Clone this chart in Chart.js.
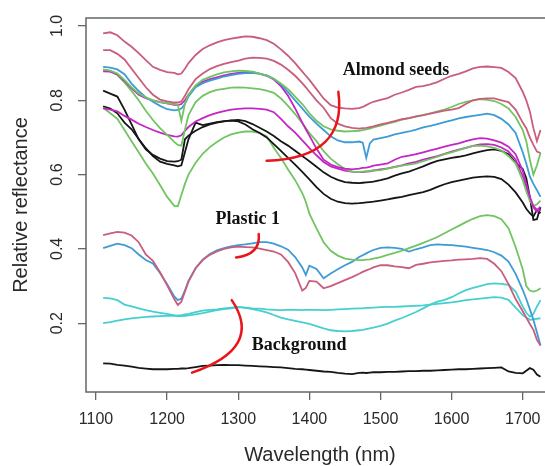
<!DOCTYPE html>
<html lang="en">
<head>
<meta charset="UTF-8">
<title>Relative reflectance spectra</title>
<script src="https://cdn.jsdelivr.net/npm/chart.js"></script>
<style>
    html, body { margin: 0; padding: 0; background: #fff; overflow: hidden; }
    #wrap { width: 575px; height: 466px; }
    canvas { display: block; }
</style>
</head>
<body>
<div id="wrap"><canvas id="spectra" width="575" height="466"></canvas></div>
<script>
// wavelength grid (nm) shared by every curve
const wavelength = [
    1110, 1120, 1130, 1140, 1150, 1160, 1170, 1180, 1190, 1200,
    1210, 1215, 1220, 1225, 1230, 1240, 1250, 1260, 1270, 1280,
    1290, 1300, 1310, 1320, 1330, 1340, 1350, 1360, 1370, 1380,
    1390, 1395, 1400, 1410, 1420, 1430, 1440, 1450, 1460, 1470,
    1475, 1480, 1485, 1490, 1500, 1510, 1520, 1530, 1540, 1550,
    1560, 1570, 1580, 1590, 1600, 1610, 1620, 1630, 1640, 1650,
    1660, 1670, 1680, 1690, 1700, 1705, 1710, 1715, 1720, 1725
];
const xTicks = [1100, 1200, 1300, 1400, 1500, 1600, 1700];
const yTicks = [0.2, 0.4, 0.6, 0.8, 1.0];

// almond seeds
const almondPink1 = [
    .980, .983, .975, .958, .944, .927, .908, .890, .882, .876,
    .874, .870, .872, .885, .900, .922, .938, .948, .956, .962,
    .966, .969, .972, .971, .967, .962, .952, .937, .920, .900,
    .877, .866, .855, .830, .805, .787, .780, .778, .777, .779,
    .782, .787, .792, .796, .801, .806, .815, .821, .828, .836,
    .838, .843, .849, .858, .866, .871, .878, .886, .890, .891,
    .889, .887, .876, .860, .823, .800, .770, .725, .690, .720
];
const almondPink2 = [
    .935, .935, .925, .910, .885, .860, .835, .815, .802, .797,
    .794, .794, .797, .812, .830, .857, .872, .884, .892, .898,
    .903, .907, .912, .915, .914, .912, .906, .896, .882, .866,
    .846, .835, .823, .800, .780, .752, .737, .730, .726, .724,
    .725, .726, .728, .730, .735, .739, .744, .749, .752, .757,
    .760, .764, .768, .772, .775, .779, .790, .800, .804, .805,
    .805, .800, .795, .775, .740, .725, .700, .680, .662, .658
];
const almondGreen1 = [
    .883, .880, .872, .855, .835, .818, .808, .800, .795, .792,
    .790, .788, .745, .790, .815, .840, .855, .863, .870, .875,
    .878, .880, .879, .877, .872, .866, .858, .845, .830, .810,
    .790, .778, .765, .745, .730, .722, .718, .716, .717, .718,
    .720, .722, .724, .727, .732, .737, .742, .748, .752, .756,
    .760, .765, .770, .775, .782, .790, .796, .800, .803, .801,
    .798, .790, .778, .755, .720, .690, .640, .600, .625, .658
];
const almondBlue = [
    .890, .888, .883, .870, .845, .825, .808, .796, .785, .776,
    .773, .774, .778, .790, .810, .835, .846, .853, .858, .864,
    .868, .871, .873, .874, .871, .867, .858, .843, .822, .800,
    .778, .767, .756, .737, .720, .703, .692, .687, .687, .689,
    .686, .645, .684, .694, .698, .702, .708, .712, .716, .721,
    .727, .731, .736, .741, .746, .751, .755, .758, .761, .764,
    .760, .750, .735, .712, .660, .630, .595, .575, .558, .540
];
const almondMagenta1 = [
    .878, .877, .870, .852, .832, .815, .806, .800, .795, .792,
    .788, .787, .790, .800, .815, .838, .850, .857, .862, .867,
    .871, .874, .876, .876, .872, .866, .856, .838, .812, .778,
    .740, .722, .705, .670, .640, .627, .620, .616, .614, .616,
    .618, .619, .621, .624, .627, .630, .640, .648, .651, .655,
    .660, .665, .670, .675, .680, .684, .690, .695, .698, .697,
    .692, .686, .675, .655, .610, .575, .540, .515, .505, .513
];
const almondGreen2 = [
    .882, .878, .868, .848, .825, .800, .772, .747, .725, .707,
    .688, .680, .678, .720, .760, .795, .812, .822, .828, .831,
    .834, .835, .834, .832, .830, .826, .820, .805, .785, .763,
    .738, .725, .712, .690, .663, .643, .628, .615, .608, .607,
    .608, .609, .610, .611, .612, .616, .620, .624, .627, .630,
    .636, .642, .648, .655, .660, .666, .672, .677, .678, .676,
    .672, .665, .650, .630, .585, .555, .530, .515, .520, .530
];
const almondMagenta2 = [
    .778, .775, .770, .758, .748, .737, .728, .720, .713, .707,
    .703, .702, .706, .718, .728, .743, .752, .760, .766, .771,
    .775, .777, .778, .778, .777, .775, .768, .750, .730, .713,
    .692, .682, .671, .652, .634, .622, .616, .611, .608, .607,
    .607, .608, .609, .611, .614, .617, .621, .625, .630, .634,
    .640, .645, .650, .656, .662, .667, .672, .677, .681, .682,
    .680, .673, .662, .640, .595, .565, .535, .512, .500, .505
];
const almondBlack1 = [
    .826, .818, .810, .775, .735, .695, .668, .653, .643, .636,
    .635, .636, .640, .695, .705, .718, .728, .735, .740, .743,
    .746, .747, .744, .736, .726, .716, .704, .690, .678, .664,
    .650, .643, .636, .621, .606, .594, .586, .580, .578, .577,
    .578, .579, .580, .581, .585, .590, .597, .603, .608, .615,
    .622, .630, .637, .641, .645, .648, .652, .657, .662, .666,
    .668, .664, .655, .632, .615, .590, .540, .478, .480, .513
];
const almondBlack2 = [
    .784, .778, .765, .740, .722, .696, .671, .650, .635, .629,
    .625, .622, .625, .660, .695, .740, .733, .737, .741, .744,
    .745, .743, .735, .722, .712, .700, .682, .664, .645, .627,
    .607, .597, .587, .566, .548, .535, .527, .523, .522, .523,
    .524, .525, .526, .527, .530, .533, .537, .540, .545, .549,
    .553, .559, .567, .574, .580, .584, .588, .592, .594, .595,
    .594, .588, .573, .552, .525, .508, .496, .487, .505, .496
];
const almondGreen3 = [
    .780, .765, .750, .720, .690, .660, .630, .603, .572, .540,
    .516, .515, .545, .575, .600, .632, .656, .674, .688, .700,
    .708, .713, .716, .716, .712, .703, .672, .645, .614, .585,
    .550, .527, .495, .455, .418, .395, .382, .374, .371, .370,
    .370, .371, .372, .374, .378, .384, .389, .395, .402, .409,
    .416, .424, .432, .442, .452, .462, .472, .481, .488, .491,
    .488, .480, .456, .405, .345, .300, .288, .285, .288, .294
];

// plastic 1
const plasticPink = [
    .437, .442, .446, .444, .436, .418, .385, .368, .337, .302,
    .265, .249, .258, .285, .312, .348, .370, .384, .393, .400,
    .404, .406, .405, .404, .401, .397, .393, .385, .365, .335,
    .288, .295, .314, .312, .294, .300, .308, .316, .324, .333,
    .338, .342, .346, .350, .356, .356, .353, .351, .348, .357,
    .360, .364, .366, .368, .369, .371, .372, .373, .375, .373,
    .360, .340, .305, .265, .232, .215, .198, .182, .155, .140
];
const plasticBlue = [
    .402, .408, .414, .410, .402, .385, .370, .361, .335, .305,
    .272, .262, .266, .288, .314, .348, .371, .386, .396, .402,
    .407, .410, .412, .415, .418, .418, .414, .407, .398, .378,
    .350, .330, .355, .346, .321, .334, .345, .356, .365, .378,
    .383, .388, .393, .397, .403, .404, .403, .400, .393, .399,
    .404, .410, .412, .411, .410, .408, .406, .403, .400, .397,
    .391, .382, .366, .333, .290, .265, .238, .209, .175, .140
];

// background
const backgroundCyan1 = [
    .268, .267, .262, .250, .245, .240, .235, .231, .228, .225,
    .221, .219, .219, .220, .221, .224, .227, .231, .235, .238,
    .240, .243, .241, .238, .234, .229, .222, .215, .210, .206,
    .202, .200, .198, .192, .186, .181, .179, .178, .179, .181,
    .182, .184, .186, .188, .193, .199, .207, .214, .222, .230,
    .240, .250, .258, .263, .270, .280, .289, .295, .300, .305,
    .307, .306, .303, .285, .245, .228, .218, .225, .245, .262
];
const backgroundCyan2 = [
    .200, .203, .207, .210, .213, .215, .217, .218, .219, .220,
    .220, .221, .222, .224, .225, .230, .234, .236, .237, .240,
    .242, .244, .242, .240, .239, .237, .236, .235, .236, .236,
    .235, .236, .236, .236, .235, .236, .237, .238, .239, .240,
    .240, .241, .241, .242, .243, .244, .244, .245, .246, .247,
    .248, .250, .252, .254, .256, .259, .262, .264, .266, .268,
    .270, .269, .263, .242, .222, .215, .209, .210, .212, .213
];
const backgroundBlack = [
    .092, .091, .088, .086, .083, .080, .078, .076, .076, .076,
    .077, .077, .078, .078, .079, .082, .085, .086, .087, .088,
    .087, .087, .086, .085, .084, .083, .082, .081, .079, .077,
    .076, .075, .074, .072, .070, .069, .066, .064, .063, .066,
    .067, .066, .067, .068, .068, .069, .069, .070, .071, .071,
    .072, .072, .073, .074, .075, .076, .076, .077, .078, .079,
    .080, .081, .070, .066, .065, .072, .079, .075, .062, .056
];

const PINK = '#c95d7c', GREEN = '#72c462', BLUE = '#3d9bd6',
      MAGENTA = '#c326c3', BLACK = '#161616', CYAN = '#47cfd0';

const curves = [
    [almondPink1, PINK], [almondPink2, PINK], [almondGreen1, GREEN],
    [almondBlue, BLUE], [almondMagenta1, MAGENTA], [almondGreen2, GREEN],
    [almondMagenta2, MAGENTA], [almondBlack1, BLACK], [almondBlack2, BLACK],
    [almondGreen3, GREEN], [plasticPink, PINK], [plasticBlue, BLUE],
    [backgroundCyan1, CYAN], [backgroundCyan2, CYAN], [backgroundBlack, BLACK]
];

// group labels and red arcs, placed in data units
const labels = [
    { text: 'Almond seeds', x: 1447, y: 0.8815 },
    { text: 'Plastic 1', x: 1268, y: 0.479 },
    { text: 'Background', x: 1319, y: 0.140 }
];
const arcs = [
    [[1440.7, 0.823], [1453.6, 0.645], [1340, 0.637]],
    [[1328.8, 0.440], [1331.5, 0.385], [1296.9, 0.377]],
    [[1290.8, 0.262], [1336.4, 0.134], [1235, 0.067]]
];

const SANS = '"Liberation Sans", Arial, sans-serif';
const SERIF = '"Liberation Serif", "Times New Roman", serif';

const decor = {
    id: 'decor',
    afterDraw(chart) {
        const { ctx, chartArea: a, scales: { x, y } } = chart;
        ctx.save();

        // plot frame
        ctx.strokeStyle = '#666';
        ctx.lineWidth = 1.5;
        ctx.strokeRect(a.left, a.top, a.right - a.left, a.bottom - a.top);

        // tick labels
        ctx.fillStyle = '#2a2a2a';
        ctx.font = '16px ' + SANS;
        ctx.textAlign = 'center';
        ctx.textBaseline = 'middle';
        xTicks.forEach(v => ctx.fillText(String(v), x.getPixelForValue(v), a.bottom + 28));
        yTicks.forEach(v => {
            ctx.save();
            ctx.translate(a.left - 28, y.getPixelForValue(v));
            ctx.rotate(-Math.PI / 2);
            ctx.fillText(v.toFixed(1), 0, 0);
            ctx.restore();
        });

        // axis titles
        ctx.font = '20px ' + SANS;
        ctx.fillText('Wavelength (nm)', (a.left + a.right) / 2 - 2, a.bottom + 63.5);
        ctx.save();
        ctx.translate(21, (a.top + a.bottom) / 2);
        ctx.rotate(-Math.PI / 2);
        ctx.fillText('Relative reflectance', 0, 0);
        ctx.restore();

        // red arcs
        ctx.strokeStyle = '#e8161b';
        ctx.lineWidth = 2.5;
        ctx.lineCap = 'round';
        arcs.forEach(([p0, c, p1]) => {
            ctx.beginPath();
            ctx.moveTo(x.getPixelForValue(p0[0]), y.getPixelForValue(p0[1]));
            ctx.quadraticCurveTo(x.getPixelForValue(c[0]), y.getPixelForValue(c[1]),
                x.getPixelForValue(p1[0]), y.getPixelForValue(p1[1]));
            ctx.stroke();
        });

        // group labels
        ctx.fillStyle = '#111';
        ctx.font = 'bold 18px ' + SERIF;
        ctx.textAlign = 'left';
        labels.forEach(l => ctx.fillText(l.text, x.getPixelForValue(l.x), y.getPixelForValue(l.y)));

        ctx.restore();
    }
};

const tickGrid = { display: true, drawOnChartArea: false, drawTicks: true, tickLength: 8, color: '#666', lineWidth: 1.3 };

new Chart(document.getElementById('spectra'), {
    type: 'line',
    data: {
        datasets: curves.map(([vals, color]) => ({
            data: wavelength.map((w, i) => ({ x: w, y: vals[i] })),
            borderColor: color,
            borderWidth: 1.8,
            pointRadius: 0,
            tension: 0,
            fill: false
        }))
    },
    options: {
        responsive: false,
        animation: false,
        layout: { padding: { top: 18, right: 17, left: 0, bottom: 0 } },
        plugins: { legend: { display: false }, tooltip: { enabled: false } },
        scales: {
            x: {
                type: 'linear',
                min: 1085.9,
                max: 1749.6,
                grid: tickGrid,
                border: { display: false },
                ticks: { display: false },
                afterBuildTicks: s => { s.ticks = xTicks.map(v => ({ value: v })); },
                afterFit: s => { s.height = 74; }
            },
            y: {
                min: 0.0148,
                max: 1.0215,
                grid: tickGrid,
                border: { display: false },
                ticks: { display: false },
                afterBuildTicks: s => { s.ticks = yTicks.map(v => ({ value: v })); },
                afterFit: s => { s.width = 86; }
            }
        }
    },
    plugins: [decor]
});
</script>
</body>
</html>
